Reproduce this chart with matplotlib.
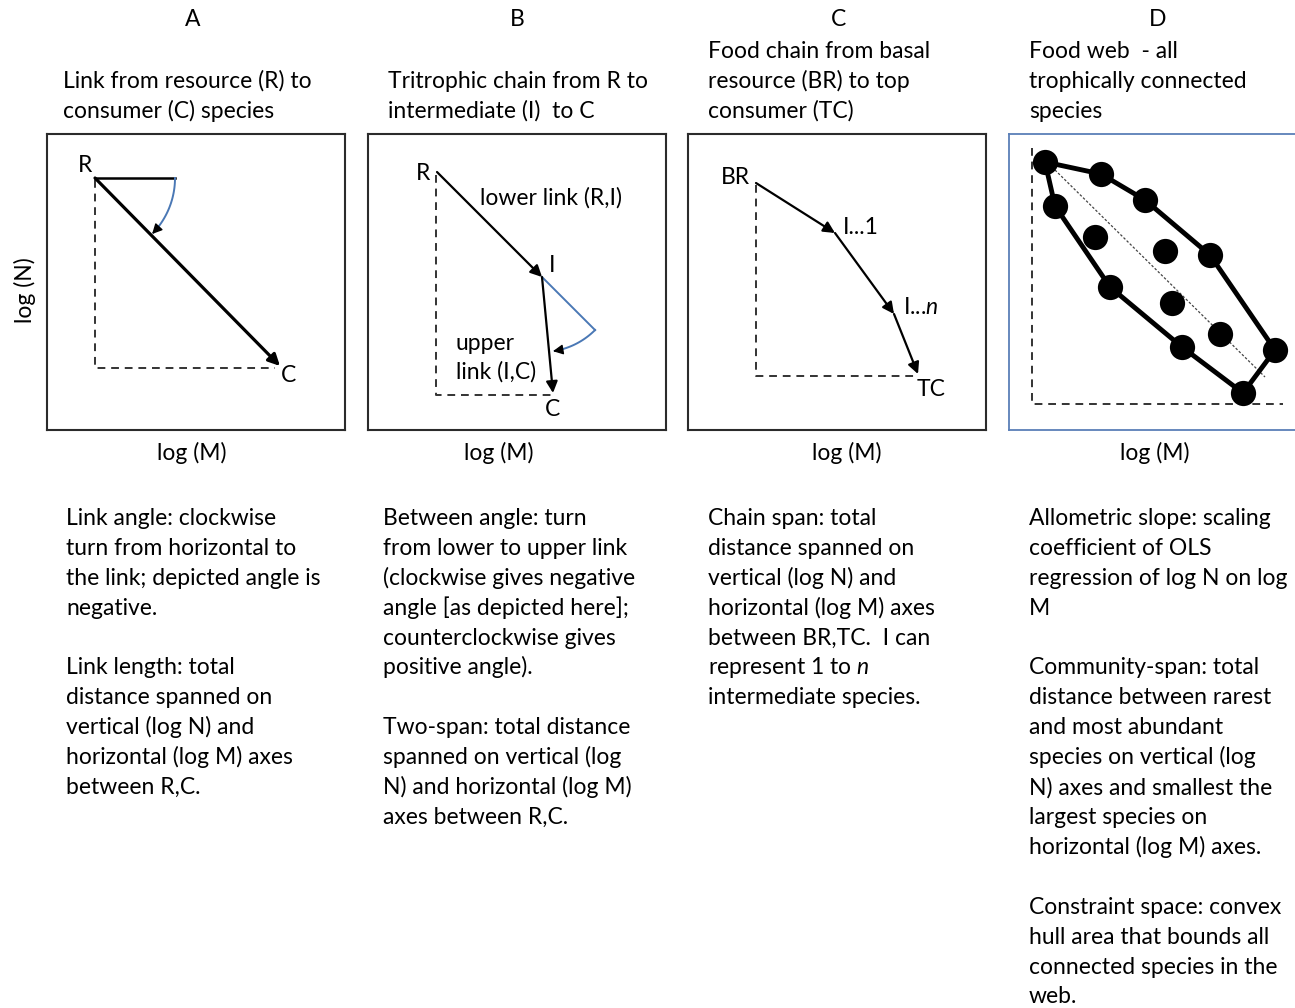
import numpy as np
import matplotlib
matplotlib.use("Agg")
import matplotlib.pyplot as plt

plt.rcParams['font.family'] = ['Lato', 'DejaVu Sans']
plt.rcParams['mathtext.fontset'] = 'custom'
plt.rcParams['mathtext.rm'] = 'Lato'
plt.rcParams['mathtext.it'] = 'Lato:italic'

# ---------------- data (panel-local units: x = log M, y = log N) ----------------
panel_letters = ["A", "B", "C", "D"]
titles = [
    ["Link from resource (R) to", "consumer (C) species"],
    ["Tritrophic chain from R to", "intermediate (I)  to C"],
    ["Food chain from basal", "resource (BR) to top", "consumer (TC)"],
    ["Food web  - all", "trophically connected", "species"],
]
descriptions = [
    ["Link angle: clockwise", "turn from horizontal to", "the link; depicted angle is",
     "negative.", "", "Link length: total", "distance spanned on", "vertical (log N) and",
     "horizontal (log M) axes", "between R,C."],
    ["Between angle: turn", "from lower to upper link", "(clockwise gives negative",
     "angle [as depicted here];", "counterclockwise gives", "positive angle).", "",
     "Two-span: total distance", "spanned on vertical (log", "N) and horizontal (log M)",
     "axes between R,C."],
    ["Chain span: total", "distance spanned on", "vertical (log N) and",
     "horizontal (log M) axes", "between BR,TC.  I can", "represent 1 to $\\mathit{n}$",
     "intermediate species."],
    ["Allometric slope: scaling", "coefficient of OLS", "regression of log N on log", "M", "",
     "Community-span: total", "distance between rarest", "and most abundant",
     "species on vertical (log", "N) axes and smallest the", "largest species on",
     "horizontal (log M) axes.", "", "Constraint space: convex", "hull area that bounds all",
     "connected species in the", "web."],
]

# Panel A: resource -> consumer
a_nodes_x = [48, 233]          # R, C
a_nodes_y = [252, 64]
a_ref_x = [48, 128]            # horizontal reference
a_angle_r = 80

# Panel B: R -> I -> C
b_nodes_x = [69, 174, 185]     # R, I, C
b_nodes_y = [258, 153, 37]
b_angle_r = 75

# Panel C: BR -> I...1 -> I...n -> TC
c_nodes_x = [68, 147, 206, 230]
c_nodes_y = [247, 197, 116, 56]

# Panel D: species in food web
d_x = [36, 92, 136, 46, 86, 156, 201, 101, 163, 211, 173, 266, 234]
d_y = [268, 256, 230, 224, 193, 179, 175, 143, 127, 96, 83, 80, 37]
d_line_x = [46, 256]
d_line_y = [260, 53]

# ---------------- figure ----------------
W, H = 1295, 1008
fig = plt.figure(figsize=(W / 100, H / 100), dpi=100)
bg = fig.add_axes([0, 0, 1, 1])
bg.set_xlim(0, W)
bg.set_ylim(H, 0)
bg.axis('off')

FS = 16.5
BOX_TOP, BOX_W, BOX_H = 134, 298, 296
lefts = [47, 368, 688, 1009]


def panel_ax(left, color='#2b2b2b', lw=1.5):
    ax = fig.add_axes([left / W, 1 - (BOX_TOP + BOX_H) / H, BOX_W / W, BOX_H / H])
    ax.set_xlim(0, BOX_W)
    ax.set_ylim(0, BOX_H)
    ax.set_xticks([])
    ax.set_yticks([])
    for s in ax.spines.values():
        s.set_linewidth(lw)
        s.set_color(color)
    return ax


def arrow(ax, p0, p1, lw=1.6, ms=17, color='black'):
    ax.annotate('', xy=p1, xytext=p0,
                arrowprops=dict(arrowstyle='-|>', color=color, lw=lw,
                                mutation_scale=ms, shrinkA=0, shrinkB=0))


def arc_arrow(ax, cx, cy, r, th0, th1, color='#4a78b5'):
    th = np.radians(np.linspace(th0, th1, 80))
    x = cx + r * np.cos(th)
    y = cy + r * np.sin(th)
    ax.plot(x[:-3], y[:-3], color=color, lw=1.4)
    arrow(ax, (x[-6], y[-6]), (x[-1], y[-1]), lw=1.0, ms=15)


DASH = (0, (4, 3))

# ---- Panel A ----
axA = panel_ax(lefts[0])
axA.plot([a_nodes_x[0], a_nodes_x[0], a_nodes_x[1] - 5],
         [a_nodes_y[0] - 2, a_nodes_y[1] - 2, a_nodes_y[1] - 2],
         color='#333333', lw=1.4, ls=DASH)
axA.plot(a_ref_x, [a_nodes_y[0]] * 2, color='black', lw=1.8)
arrow(axA, (a_nodes_x[0], a_nodes_y[0]), (a_nodes_x[1], a_nodes_y[1]), lw=2.3)
ang_a = np.degrees(np.arctan2(a_nodes_y[1] - a_nodes_y[0], a_nodes_x[1] - a_nodes_x[0]))
arc_arrow(axA, a_nodes_x[0], a_nodes_y[0], a_angle_r, 0, ang_a + 1)
axA.text(a_nodes_x[0] - 10, a_nodes_y[0] + 13, "R", fontsize=FS, ha='center', va='center')
axA.text(a_nodes_x[1] + 8, a_nodes_y[1] - 9, "C", fontsize=FS, ha='center', va='center')

# ---- Panel B ----
axB = panel_ax(lefts[1])
axB.plot([b_nodes_x[0] - 1, b_nodes_x[0] - 1, b_nodes_x[2]],
         [b_nodes_y[0] - 3, b_nodes_y[2] - 2, b_nodes_y[2] - 2],
         color='#333333', lw=1.4, ls=DASH)
arrow(axB, (b_nodes_x[0], b_nodes_y[0]), (b_nodes_x[1], b_nodes_y[1]))
arrow(axB, (b_nodes_x[1], b_nodes_y[1]), (b_nodes_x[2], b_nodes_y[2]))
ang_low = np.degrees(np.arctan2(b_nodes_y[1] - b_nodes_y[0], b_nodes_x[1] - b_nodes_x[0]))
ang_up = np.degrees(np.arctan2(b_nodes_y[2] - b_nodes_y[1], b_nodes_x[2] - b_nodes_x[1]))
ex = b_nodes_x[1] + b_angle_r * np.cos(np.radians(ang_low))
ey = b_nodes_y[1] + b_angle_r * np.sin(np.radians(ang_low))
axB.plot([b_nodes_x[1], ex], [b_nodes_y[1], ey], color='#4a78b5', lw=1.4)
arc_arrow(axB, b_nodes_x[1], b_nodes_y[1], b_angle_r, ang_low, ang_up + 3)
axB.text(b_nodes_x[0] - 14, b_nodes_y[0] - 2, "R", fontsize=FS, ha='center', va='center')
axB.text(b_nodes_x[1] + 7, b_nodes_y[1] + 12, "I", fontsize=FS, ha='left', va='center')
axB.text(b_nodes_x[2], b_nodes_y[2] - 16, "C", fontsize=FS, ha='center', va='center')
axB.text(112, 232, "lower link (R,I)", fontsize=FS, ha='left', va='center')
axB.text(88, 87, "upper", fontsize=FS, ha='left', va='center')
axB.text(88, 58, "link (I,C)", fontsize=FS, ha='left', va='center')

# ---- Panel C ----
axC = panel_ax(lefts[2])
axC.plot([c_nodes_x[0], c_nodes_x[0], c_nodes_x[3]],
         [c_nodes_y[0] - 2, c_nodes_y[3] - 2, c_nodes_y[3] - 2],
         color='#333333', lw=1.4, ls=DASH)
for i in range(3):
    arrow(axC, (c_nodes_x[i], c_nodes_y[i]), (c_nodes_x[i + 1], c_nodes_y[i + 1]))
axC.text(c_nodes_x[0] - 21, c_nodes_y[0] + 5, "BR", fontsize=FS, ha='center', va='center')
axC.text(c_nodes_x[1] + 8, c_nodes_y[1] + 5, "I...1", fontsize=FS, ha='left', va='center')
axC.text(c_nodes_x[2] + 9, c_nodes_y[2] + 6, "I...$\\mathit{n}$", fontsize=FS, ha='left', va='center')
axC.text(c_nodes_x[3] + 13, c_nodes_y[3] - 16, "TC", fontsize=FS, ha='center', va='center')

# ---- Panel D ----
axD = panel_ax(lefts[3], color='#5b7fb8', lw=1.3)
axD.plot([23, 23, 274], [282, 26, 26], color='#333333', lw=1.4, ls=DASH)
axD.plot(d_line_x, d_line_y, color='#444444', lw=0.9, ls=(0, (2, 1.5)))


def convex_hull(px, py):
    pts = sorted(zip(px, py))

    def cross(o, a, b):
        return (a[0] - o[0]) * (b[1] - o[1]) - (a[1] - o[1]) * (b[0] - o[0])
    lower, upper = [], []
    for p in pts:
        while len(lower) >= 2 and cross(lower[-2], lower[-1], p) <= 0:
            lower.pop()
        lower.append(p)
    for p in reversed(pts):
        while len(upper) >= 2 and cross(upper[-2], upper[-1], p) <= 0:
            upper.pop()
        upper.append(p)
    return lower[:-1] + upper[:-1]


hull = convex_hull(d_x, d_y)
hull.append(hull[0])
axD.plot([p[0] for p in hull], [p[1] for p in hull], color='black', lw=3.5,
         solid_joinstyle='round', zorder=2)
axD.scatter(d_x, d_y, s=330, color='black', zorder=3, linewidths=0)

# ---------------- text ----------------
letter_x = [193, 517, 838, 1158]
title_x = [63, 388, 708, 1029]
desc_x = [66, 383, 708, 1029]
xlabel_x = [192, 499, 847, 1155]
LS = 29.9
for i in range(4):
    bg.text(letter_x[i], 26, panel_letters[i], fontsize=FS, ha='center', va='baseline')
    n = len(titles[i])
    for j, line in enumerate(titles[i]):
        bg.text(title_x[i], 118 - 30 * (n - 1 - j), line, fontsize=FS, ha='left', va='baseline')
    bg.text(xlabel_x[i], 460, "log (M)", fontsize=FS, ha='center', va='baseline')
    for j, line in enumerate(descriptions[i]):
        if line:
            bg.text(desc_x[i], 525 + LS * j, line, fontsize=FS, ha='left', va='baseline')

bg.text(25, 290, "log (N)", fontsize=FS, rotation=90, ha='center', va='center')

fig.savefig("out.png", dpi=100)
